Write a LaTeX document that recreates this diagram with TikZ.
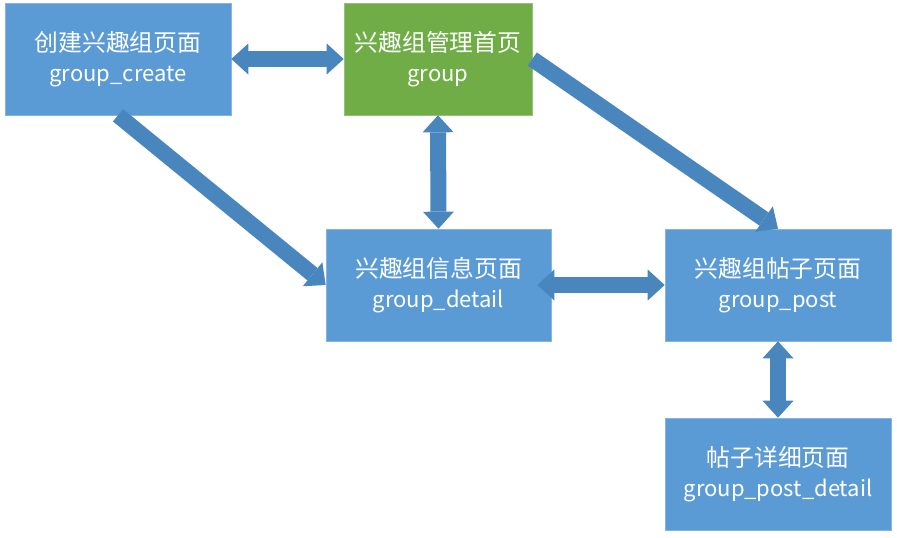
\documentclass[tikz,border=0pt]{standalone}
\usepackage{fontspec}
\setmainfont{Noto Sans CJK SC}
\usetikzlibrary{arrows.meta}
\definecolor{boxblue}{HTML}{5B9BD5}
\definecolor{boxgreen}{HTML}{70AD47}
\definecolor{arrowblue}{HTML}{4A86BE}
\newcommand{\latinline}[1]{{\fontsize{22}{30}\selectfont #1}}
\begin{document}
\begin{tikzpicture}[x=1pt,y=-1pt,
  page/.style={fill=boxblue, draw=boxblue!75!white, line width=0.6pt, text=white,
    align=center, inner sep=0pt, minimum height=112pt,
    font=\fontsize{23.8}{30}\selectfont},
  homepage/.style={page, fill=boxgreen, draw=boxgreen!75!white},
  bigtip/.tip={Triangle[length=17pt 0 0, width=31pt 0 0, line width=0pt 0 0]},
  biarrow/.style={draw=arrowblue, line width=16pt, {bigtip}-{bigtip}},
  oarrow/.style={draw=arrowblue, line width=16pt, -{bigtip}}]
\useasboundingbox (0,0) rectangle (897,538);
\node[page, minimum width=226pt] (b1) at (118,59) {创建兴趣组页面\\\latinline{group\_create}};
\node[homepage, minimum width=188pt] (b2) at (438,59) {兴趣组管理首页\\\latinline{group}};
\node[page, minimum width=225pt] (b3) at (438.5,285) {兴趣组信息页面\\\latinline{group\_detail}};
\node[page, minimum width=226pt] (b4) at (778,285) {兴趣组帖子页面\\\latinline{group\_post}};
\node[page, minimum width=226pt] (b5) at (778,474) {帖子详细页面\\\latinline{group\_post\_detail}};
\draw[biarrow] (b1.east) -- (b2.west);
\draw[biarrow] (b2.south) -- (b3.north);
\draw[oarrow] (b1.south) -- (b3.west);
\draw[oarrow] (b2.east) -- (b4.north);
\draw[biarrow] ([xshift=-14pt]b3.east) -- (b4.west);
\draw[biarrow] (b4.south) -- (b5.north);
\end{tikzpicture}
\end{document}
